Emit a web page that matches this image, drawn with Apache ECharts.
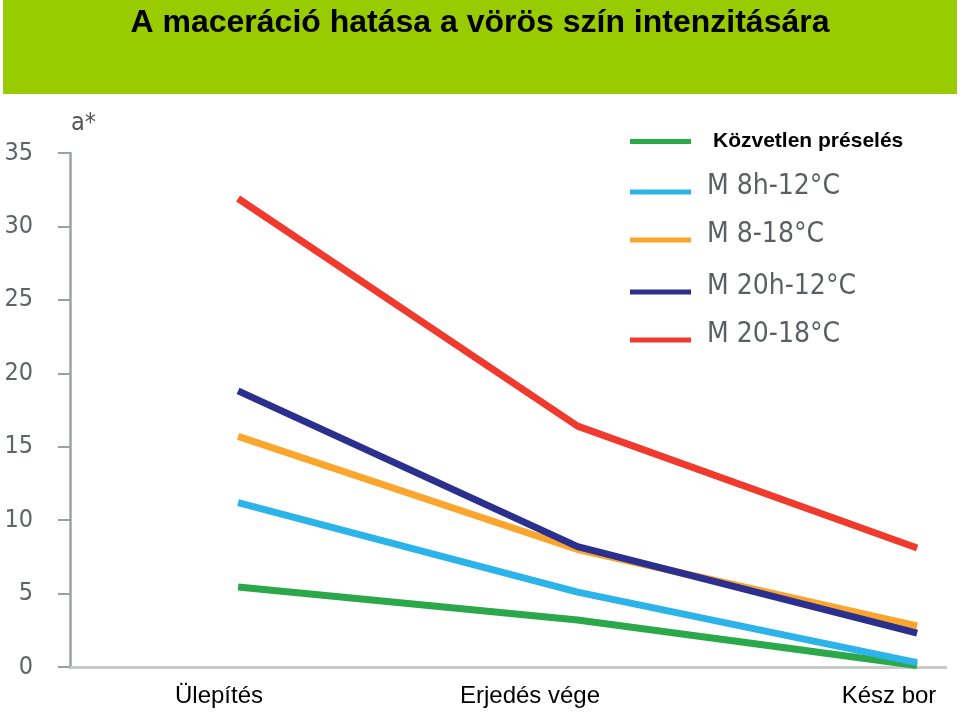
<!DOCTYPE html>
<html>
<head>
<meta charset="utf-8">
<script src="https://cdn.jsdelivr.net/npm/echarts@6/dist/echarts.min.js"></script>
<style>html,body{margin:0;padding:0;background:#fff}#c{width:960px;height:716px}</style>
</head>
<body>
<div id="c"></div>
<script>
const titleText = 'A maceráció hatása a vörös szín intenzitására';
const categories = ['Ülepítés', 'Erjedés vége', 'Kész bor'];
const yTicks = [0, 5, 10, 15, 20, 25, 30, 35];
const seriesNames = ['Közvetlen préselés', 'M 8h-12°C', 'M 8-18°C', 'M 20h-12°C', 'M 20-18°C'];
const kozvetlen = [5.45, 3.2, 0.1];
const m8h12 = [11.2, 5.1, 0.3];
const m8_18 = [15.7, 8.0, 2.8];
const m20h12 = [18.8, 8.2, 2.3];
const m20_18 = [31.9, 16.4, 8.1];
const seriesValues = [kozvetlen, m8h12, m8_18, m20h12, m20_18];
const colors = ['#2aa84a', '#2bb3ea', '#fba52c', '#2b2f8e', '#f03a2e'];

const chart = echarts.init(document.getElementById('c'));

const legendTops = [131, 171, 219, 271, 319];
const legends = seriesNames.map((n, i) => ({
  data: [n],
  left: 630,
  top: legendTops[i],
  padding: 0,
  selectedMode: false,
  icon: 'rect',
  itemWidth: 61,
  itemHeight: 5,
  formatter: i === 0 ? '{name}' : (nm => nm + '\n{s| }'),
  textStyle: i === 0
    ? {fontFamily: 'Liberation Sans', fontWeight: 'bold', fontSize: 21, color: '#000', padding: [0, 0, 0, 17]}
    : {fontFamily: 'DejaVu Sans Condensed', fontSize: 28, lineHeight: 32, color: '#5a5f62', padding: [0, 0, 0, 11],
       rich: {s: {fontSize: 2, lineHeight: 10}}}
}));

const labelX = [219, 530, 889];

chart.setOption({
  animation: false,
  backgroundColor: '#ffffff',
  title: {
    text: titleText,
    left: 'center',
    top: 2,
    textStyle: {fontFamily: 'Liberation Sans', fontWeight: 'bold', fontSize: 32, color: '#000'}
  },
  legend: legends,
  grid: {left: 70, right: 14, top: 153, bottom: 49},
  xAxis: {
    type: 'value',
    min: -0.495,
    max: 2.085,
    axisLine: {show: true, onZero: false, lineStyle: {color: '#c9cbcb', width: 3}},
    axisTick: {show: false},
    axisLabel: {show: false},
    splitLine: {show: false}
  },
  yAxis: {
    type: 'value',
    min: 0,
    max: 35,
    interval: 5,
    name: 'a*',
    nameLocation: 'end',
    nameGap: 17,
    nameTextStyle: {fontFamily: 'DejaVu Sans Condensed', fontSize: 25, color: '#555', align: 'left', padding: [0, 0, 0, 1]},
    axisLine: {show: true, onZero: false, lineStyle: {color: '#9aa0a3', width: 2.5}},
    axisTick: {show: true, length: 12, lineStyle: {color: '#9aa0a3', width: 2}},
    axisLabel: {
      margin: 37,
      fontFamily: 'DejaVu Sans Condensed',
      fontSize: 25,
      color: '#5f6466',
      formatter: v => yTicks.includes(v) ? String(v) : ''
    },
    splitLine: {show: false}
  },
  graphic: [
    {type: 'rect', z: -10, shape: {x: 3, y: 0, width: 954, height: 94}, style: {fill: '#99cc00'}},
    ...categories.map((c, i) => ({
      type: 'text', x: labelX[i], y: 696,
      style: {text: c, fontFamily: 'Liberation Sans', fontSize: 24, fill: '#000', align: 'center', verticalAlign: 'middle'}
    }))
  ],
  series: seriesNames.map((n, i) => ({
    name: n,
    type: 'line',
    data: seriesValues[i].map((v, j) => [j, v]),
    symbol: 'none',
    color: colors[i],
    lineStyle: {width: 7, color: colors[i]}
  }))
});
</script>
</body>
</html>
